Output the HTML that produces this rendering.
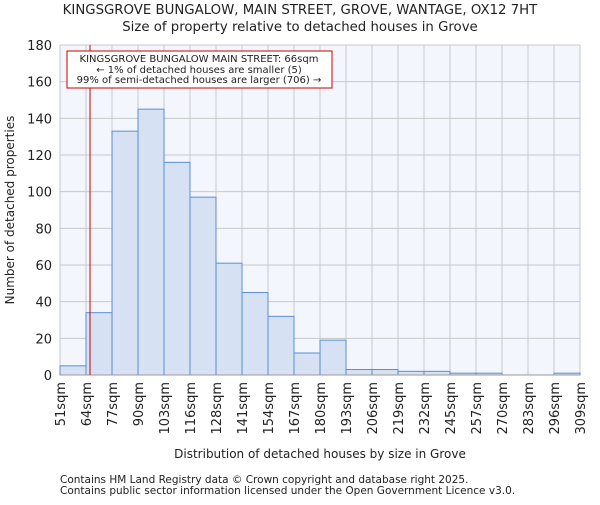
<!DOCTYPE html>
<html><head><meta charset="utf-8"><style>
body{margin:0;background:#fff;font-family:"Liberation Sans","DejaVu Sans",sans-serif}
svg text{font-family:"DejaVu Sans","Liberation Sans",sans-serif;fill:#222}
</style></head><body>
<svg id="chart" width="600" height="500">
<text x="300" y="14" text-anchor="middle" font-size="13.3">KINGSGROVE BUNGALOW, MAIN STREET, GROVE, WANTAGE, OX12 7HT</text>
<text x="300" y="31" text-anchor="middle" font-size="13.3">Size of property relative to detached houses in Grove</text>
<rect x="60" y="45" width="520" height="330" fill="#f3f6fd"/>
<g id="grid"></g><g id="bars"></g><g id="axes"></g>
<line x1="90" y1="45" x2="90" y2="375" stroke="#cc0000" stroke-width="1"/>
<rect x="67" y="51" width="265" height="37" fill="#fff" stroke="#cc0000"/>
<text x="199" y="62" text-anchor="middle" font-size="10">KINGSGROVE BUNGALOW MAIN STREET: 66sqm</text>
<text x="199" y="73" text-anchor="middle" font-size="10">← 1% of detached houses are smaller (5)</text>
<text x="199" y="83" text-anchor="middle" font-size="10">99% of semi-detached houses are larger (706) →</text>
<text x="320" y="458" text-anchor="middle" font-size="12">Distribution of detached houses by size in Grove</text>
<text transform="translate(14,210) rotate(-90)" text-anchor="middle" font-size="12">Number of detached properties</text>
<text x="60" y="483" font-size="10.5">Contains HM Land Registry data © Crown copyright and database right 2025.</text>
<text x="60" y="494" font-size="10.5">Contains public sector information licensed under the Open Government Licence v3.0.</text>
</svg>
<script>
const categories=["51sqm","64sqm","77sqm","90sqm","103sqm","116sqm","128sqm","141sqm","154sqm","167sqm","180sqm","193sqm","206sqm","219sqm","232sqm","245sqm","257sqm","270sqm","283sqm","296sqm","309sqm"];
const counts=[5,34,133,145,116,97,61,45,32,12,19,3,3,2,2,1,1,0,0,1];
const yTicks=[0,20,40,60,80,100,120,140,160,180];
const NS="http://www.w3.org/2000/svg";
const x0=60,x1=580,y0=375,y1=45,yMax=180;
const bw=(x1-x0)/counts.length;
const xs=i=>x0+i*bw;
const ys=v=>y0-(v/yMax)*(y0-y1);
function mk(t,a,p){const e=document.createElementNS(NS,t);for(const k in a)e.setAttribute(k,a[k]);p.appendChild(e);return e;}
const grid=document.getElementById('grid'),bars=document.getElementById('bars'),axes=document.getElementById('axes');
yTicks.forEach(v=>{
 const l=mk('line',{x1:x0,x2:x1,y1:ys(v),y2:ys(v),stroke:'#c8c8c8'},grid);
 
 
 const t=mk('text',{x:x0-8,y:ys(v)+5,'text-anchor':'end','font-size':13},axes);
 t.textContent=v;
 
 
});
categories.forEach((c,i)=>{
 const l=mk('line',{x1:xs(i),x2:xs(i),y1:y1,y2:y0,stroke:'#c8c8c8'},grid);
 
 
 const tx=xs(i)+5;
 const t=mk('text',{x:0,y:0,'text-anchor':'end','font-size':13,transform:`translate(${tx},382) rotate(-90)`},axes);
 t.textContent=c;
 
 
});
counts.forEach((v,i)=>{
 const r=mk('rect',{x:xs(i),y:ys(v),width:bw,height:y0-ys(v),fill:'#d6e1f3',stroke:'#5b8ed6','stroke-width':1},bars);
 
 
});
const ax=mk('line',{x1:x0,x2:x1,y1:y0,y2:y0,stroke:'#999'},axes);


</script>
</body></html>
